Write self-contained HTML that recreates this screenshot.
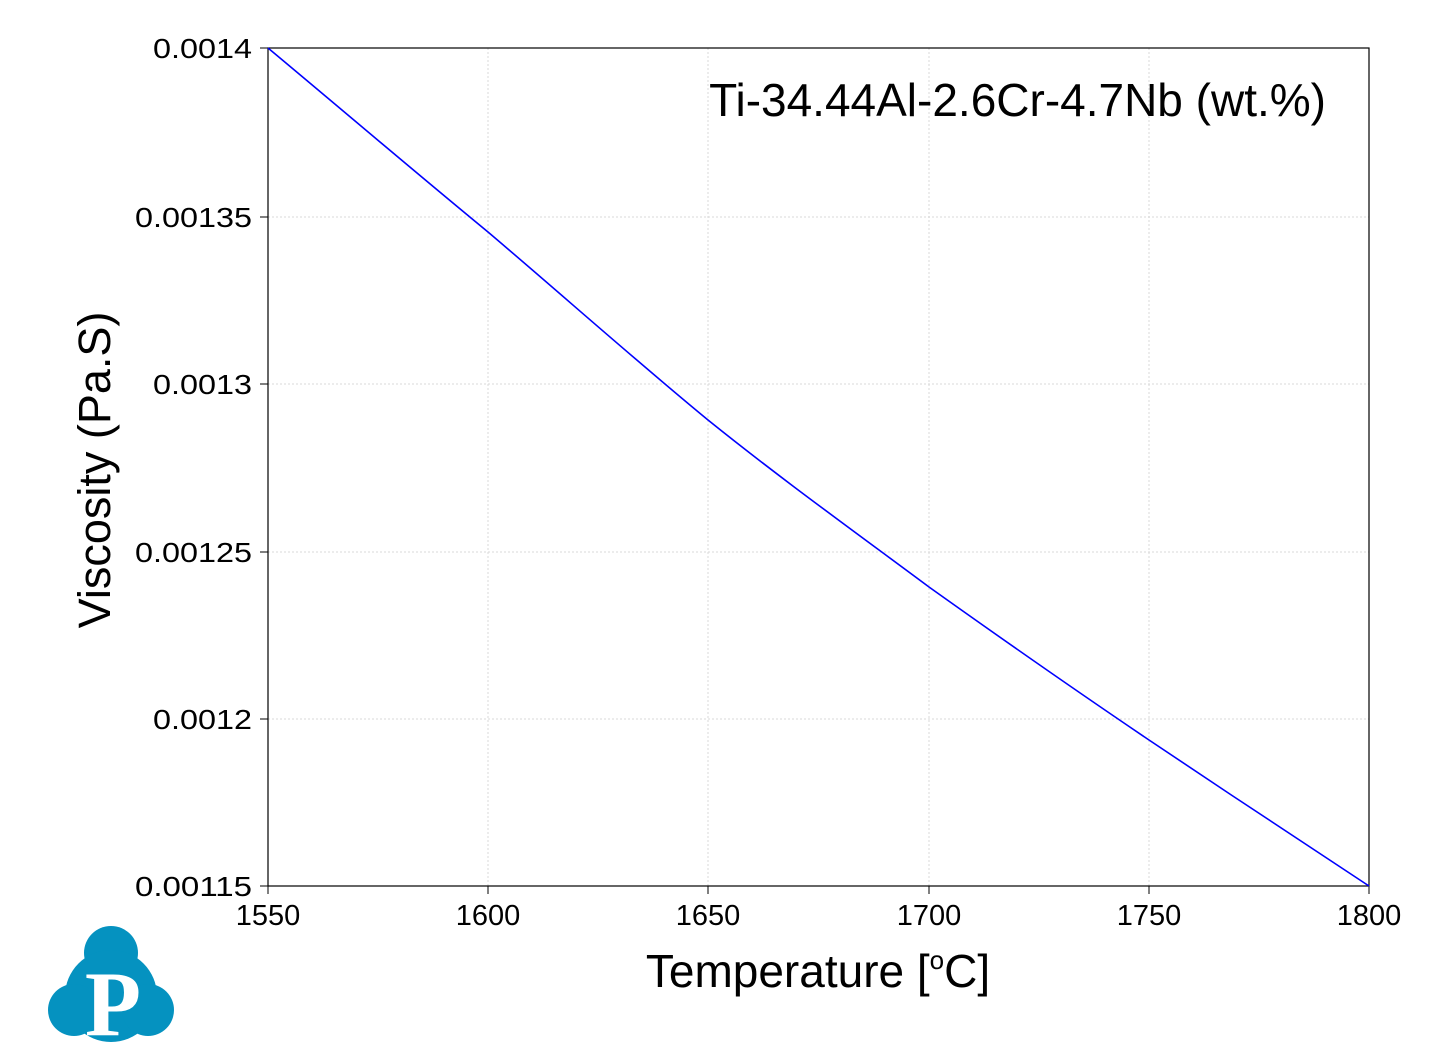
<!DOCTYPE html>
<html><head><meta charset="utf-8"><style>body{margin:0;background:#fff}</style></head><body>
<svg width="1451" height="1047" xmlns="http://www.w3.org/2000/svg" font-family="Liberation Sans, Arial, sans-serif">
<rect width="1451" height="1047" fill="#fff"/>
<g stroke="#d8d8d8" stroke-width="1" stroke-dasharray="2,2">
<line x1="488" y1="48" x2="488" y2="886"/><line x1="708" y1="48" x2="708" y2="886"/><line x1="929" y1="48" x2="929" y2="886"/><line x1="1149" y1="48" x2="1149" y2="886"/>
<line x1="268" y1="217" x2="1369" y2="217"/><line x1="268" y1="384" x2="1369" y2="384"/><line x1="268" y1="552" x2="1369" y2="552"/><line x1="268" y1="719" x2="1369" y2="719"/>
</g>
<rect x="268" y="48" width="1101" height="838" fill="none" stroke="#000" stroke-width="1.2"/>
<g stroke="#000"><line x1="260" y1="48" x2="268" y2="48"/><line x1="260" y1="217" x2="268" y2="217"/><line x1="260" y1="384" x2="268" y2="384"/><line x1="260" y1="552" x2="268" y2="552"/><line x1="260" y1="719" x2="268" y2="719"/><line x1="260" y1="886" x2="268" y2="886"/>
<line x1="268" y1="886" x2="268" y2="894"/><line x1="488" y1="886" x2="488" y2="894"/><line x1="708" y1="886" x2="708" y2="894"/><line x1="929" y1="886" x2="929" y2="894"/><line x1="1149" y1="886" x2="1149" y2="894"/><line x1="1369" y1="886" x2="1369" y2="894"/></g>
<path d="M268,48 C340,108 415,172 488,232 C560,293 635,360 708,420 C780,478 855,532 929,587 C1002,639 1075,690 1149,740 C1222,789 1296,838 1369,886" fill="none" stroke="#0000ff" stroke-width="1.6"/>
<g font-size="28" fill="#000">
<text x="153" y="58" textLength="99" lengthAdjust="spacingAndGlyphs">0.0014</text>
<text x="135" y="227" textLength="117" lengthAdjust="spacingAndGlyphs">0.00135</text>
<text x="153" y="394" textLength="99" lengthAdjust="spacingAndGlyphs">0.0013</text>
<text x="135" y="562" textLength="117" lengthAdjust="spacingAndGlyphs">0.00125</text>
<text x="153" y="729" textLength="99" lengthAdjust="spacingAndGlyphs">0.0012</text>
<text x="135" y="896" textLength="117" lengthAdjust="spacingAndGlyphs">0.00115</text></g>
<g font-size="29" text-anchor="middle" fill="#000">
<text x="268" y="925">1550</text><text x="488" y="925">1600</text><text x="708" y="925">1650</text><text x="929" y="925">1700</text><text x="1149" y="925">1750</text><text x="1369" y="925">1800</text></g>
<text x="818" y="987" font-size="46" text-anchor="middle">Temperature [<tspan font-size="26" dy="-18">o</tspan><tspan dy="18">C]</tspan></text>
<text transform="translate(110,470) rotate(-90)" font-size="45" text-anchor="middle">Viscosity (Pa.S)</text>
<text x="1326" y="116" font-size="46" text-anchor="end">Ti-34.44Al-2.6Cr-4.7Nb (wt.%)</text>
<g fill="#0592c0"><circle cx="111" cy="953" r="27"/><circle cx="111" cy="996" r="46"/><circle cx="74" cy="1010" r="26"/><circle cx="148" cy="1010" r="26"/></g>
<text x="113" y="1035" font-family="Liberation Serif, serif" font-weight="bold" font-size="92" fill="#fff" text-anchor="middle">P</text>
</svg>
</body></html>
